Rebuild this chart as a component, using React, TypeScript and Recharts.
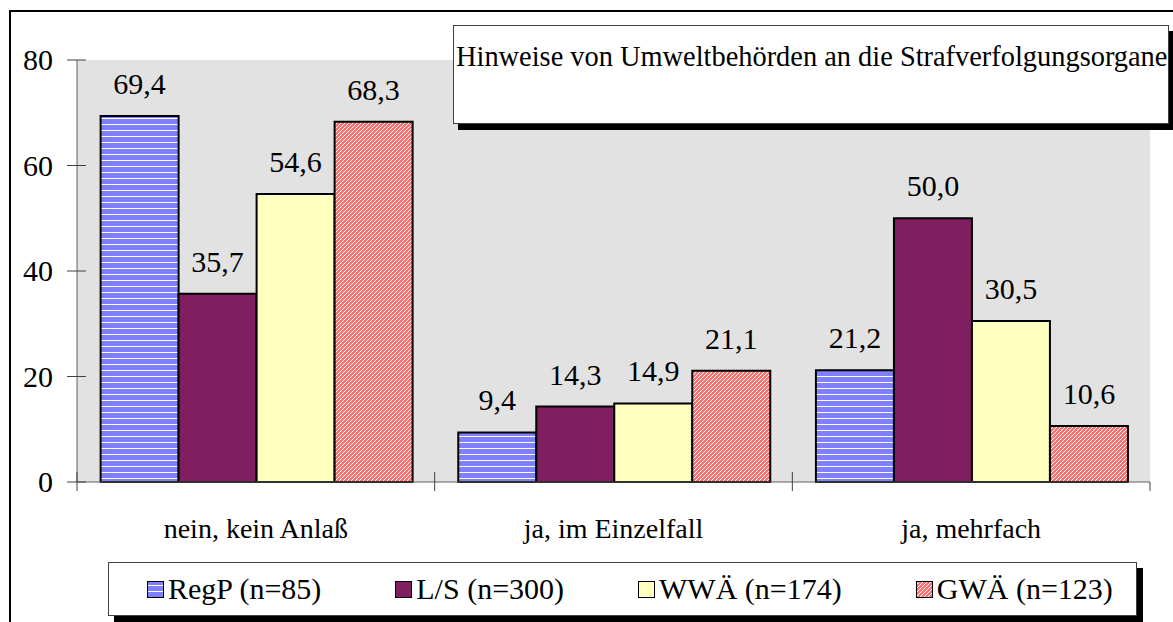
import React from 'react';
import { BarChart, Bar, XAxis, YAxis, CartesianGrid, LabelList } from 'recharts';

const categories = ['nein, kein Anlaß', 'ja, im Einzelfall', 'ja, mehrfach'];
const regP = [69.4, 9.4, 21.2];
const lS = [35.7, 14.3, 50.0];
const wwa = [54.6, 14.9, 30.5];
const gwa = [68.3, 21.1, 10.6];
const seriesNames = ['RegP (n=85)', 'L/S (n=300)', 'WWÄ (n=174)', 'GWÄ (n=123)'];
const yTicks = [0, 20, 40, 60, 80];
const title = 'Hinweise von Umweltbehörden an die Strafverfolgungsorgane';

const data = categories.map((name, i) => ({
  name,
  regP: regP[i],
  lS: lS[i],
  wwa: wwa[i],
  gwa: gwa[i],
}));

const series = [
  { key: 'regP', name: seriesNames[0], fill: 'url(#patRegP)' },
  { key: 'lS', name: seriesNames[1], fill: '#7f1f5f' },
  { key: 'wwa', name: seriesNames[2], fill: '#ffffc0' },
  { key: 'gwa', name: seriesNames[3], fill: 'url(#patGwa)' },
];

const FONT = 'Liberation Serif, serif';
const W = 1173;
const H = 622;
const margin = { top: 60, right: 23, bottom: 0, left: 0 };

const fmt = (v: any) => Number(v).toFixed(1).replace('.', ',');

function XTick(props: any) {
  const { x, y, payload, index, visibleTicksCount } = props;
  const off = payload && payload.offset ? payload.offset : (W - 77 - margin.right) / categories.length / 2;
  const last = index === (visibleTicksCount ?? categories.length) - 1;
  return (
    <g>
      <line x1={x - off} x2={x - off} y1={y - 10} y2={y + 9} stroke="#404040" />
      {last && <line x1={x + off} x2={x + off} y1={y} y2={y + 9} stroke="#404040" />}
      <text x={x} y={y + 56} textAnchor="middle" style={{ fontFamily: FONT, fontSize: 28 }} fill="#000">
        {payload.value}
      </text>
    </g>
  );
}

function YTick(props: any) {
  const { x, y, payload } = props;
  return (
    <g>
      <line x1={x - 10} x2={x + 9} y1={y} y2={y} stroke="#404040" />
      <text x={x - 24} y={y + 10} textAnchor="end" style={{ fontFamily: FONT, fontSize: 30 }} fill="#000">
        {payload.value}
      </text>
    </g>
  );
}

function Patterns() {
  return (
    <svg width={0} height={0} style={{ position: 'absolute' }}>
      <defs>
        <pattern id="patRegP" width={6} height={6} patternUnits="userSpaceOnUse">
          <rect width={6} height={6} fill="#8080ff" />
          <rect y={4} width={6} height={1} fill="#ffffff" />
        </pattern>
        <pattern id="patGwa" width={4} height={4} patternUnits="userSpaceOnUse">
          <rect width={4} height={4} fill="#ff7070" />
          <path d="M-1,1 L1,-1 M0,4 L4,0 M3,5 L5,3" stroke="#ffffff" strokeWidth={1} />
        </pattern>
      </defs>
    </svg>
  );
}

export default function App() {
  return (
    <div
      style={{
        position: 'absolute',
        left: 0,
        top: 0,
        width: W,
        height: H,
        background: '#fff',
        overflow: 'hidden',
        fontFamily: FONT,
      }}
    >
      <Patterns />
      <div
        style={{
          position: 'absolute',
          left: 9,
          top: 10,
          width: W + 20,
          height: H + 20,
          borderLeft: '2px solid #000',
          borderTop: '2px solid #000',
        }}
      />
      <div style={{ position: 'absolute', left: 0, top: 0 }}>
        <BarChart
          width={W}
          height={H}
          data={data}
          margin={margin}
          barCategoryGap="6.6%"
          barGap={0}
          style={{ fontFamily: FONT }}
        >
          <CartesianGrid horizontal={false} vertical={false} fill="#e2e2e2" />
          <XAxis
            dataKey="name"
            height={140}
            axisLine={{ stroke: '#606060' }}
            tickLine={false}
            tickSize={0}
            tickMargin={0}
            tick={<XTick />}
            interval={0}
          />
          <XAxis xAxisId="top" orientation="top" dataKey="name" height={0} tick={false} tickLine={false} axisLine={{ stroke: '#808080' }} />
          <YAxis
            width={77}
            domain={[0, 80]}
            ticks={yTicks}
            axisLine={{ stroke: '#606060' }}
            tickLine={false}
            tickSize={0}
            tickMargin={0}
            tick={<YTick />}
            interval={0}
          />
          <YAxis yAxisId="right" orientation="right" width={0} domain={[0, 80]} tick={false} tickLine={false} axisLine={{ stroke: '#a0a0a0', strokeWidth: 2 }} />
          {series.map((s) => (
            <Bar key={s.key} dataKey={s.key} name={s.name} fill={s.fill} stroke="#000" strokeWidth={2} isAnimationActive={false}>
              <LabelList
                dataKey={s.key}
                position="top"
                offset={22}
                formatter={fmt}
                fill="#000"
                fontSize={30}
                fontFamily={FONT}
                style={{ fontFamily: FONT, fontSize: 30, fill: '#000' }}
              />
            </Bar>
          ))}
        </BarChart>
      </div>
      <div
        style={{
          position: 'absolute',
          left: 453,
          top: 25,
          width: 716,
          height: 99,
          border: '1px solid #404040',
          background: '#fff',
          boxShadow: '5px 6px 0 #000',
          fontSize: 28.4,
          lineHeight: '28px',
          paddingTop: 17,
          paddingLeft: 2,
          boxSizing: 'border-box',
          whiteSpace: 'nowrap',
        }}
      >
        {title}
      </div>
      <div
        style={{
          position: 'absolute',
          left: 108,
          top: 562,
          width: 1029,
          height: 54,
          border: '1px solid #404040',
          background: '#fff',
          boxShadow: '6px 6px 0 #000',
          boxSizing: 'border-box',
          display: 'flex',
          alignItems: 'center',
          paddingLeft: 38,
          gap: 74,
          fontSize: 30,
          whiteSpace: 'nowrap',
        }}
      >
        {series.map((s) => (
          <div key={s.key} style={{ display: 'flex', alignItems: 'center', gap: 4 }}>
            <svg width={17} height={17} style={{ display: 'block' }}>
              <rect x={0.5} y={0.5} width={16} height={16} fill={s.fill} stroke="#000" />
            </svg>
            <span>{s.name}</span>
          </div>
        ))}
      </div>
    </div>
  );
}
